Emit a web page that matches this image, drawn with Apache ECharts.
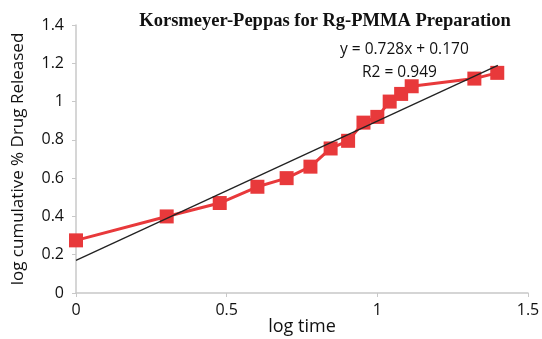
<!DOCTYPE html>
<html lang="en">
  <head>
    <meta charset="UTF-8" />
    <title>Korsmeyer-Peppas for Rg-PMMA Preparation</title>
    <script src="https://cdn.jsdelivr.net/npm/echarts@6/dist/echarts.min.js"></script>
    <style>
      * { margin: 0; padding: 0; box-sizing: border-box; }
      body { background: #fff; overflow: hidden; }
      #chart { width: 542px; height: 339px; }
    </style>
  </head>
  <body>
    <div id="chart"></div>
    <script>
      // log time vs log cumulative % drug released
      const logTime = [0, 0.301, 0.477, 0.602, 0.699, 0.778, 0.845, 0.903, 0.954, 1.0, 1.041, 1.079, 1.114, 1.322, 1.398];
      const logRelease = [0.275, 0.40, 0.47, 0.555, 0.60, 0.66, 0.755, 0.795, 0.89, 0.92, 1.0, 1.04, 1.08, 1.12, 1.15];

      // linear trendline endpoints (y = 0.728x + 0.170)
      const trendX = [0, 1.4];
      const trendY = [0.170, 1.189];

      const xTicks = ["0", "0.5", "1", "1.5"];
      const eqText = "y = 0.728x + 0.170";
      const r2Text = "R2 = 0.949";

      const font = "'Open Sans', sans-serif";
      const chart = echarts.init(document.getElementById("chart"));

      chart.setOption({
        animation: false,
        title: {
          text: "Korsmeyer-Peppas for Rg-PMMA Preparation",
          left: 320,
          top: 7,
          textAlign: "center",
          textStyle: { fontFamily: "'Liberation Serif', serif", fontWeight: "bold", fontSize: 18.5, color: "#111" },
        },
        grid: { left: 76, right: 14, top: 25, bottom: 46, outerBoundsMode: "none" },
        xAxis: {
          type: "value",
          min: 0,
          max: 1.5,
          interval: 0.5,
          name: "log time",
          nameLocation: "middle",
          nameGap: 25,
          nameMoveOverlap: false,
          nameTextStyle: { fontFamily: font, fontSize: 18, color: "#111" },
          axisLine: { lineStyle: { color: "#c8c8c8", width: 1.5 } },
          axisTick: { show: true, length: 4, lineStyle: { color: "#c8c8c8" } },
          splitLine: { show: false },
          axisLabel: {
            fontFamily: font, fontSize: 16, color: "#111", margin: 9,
            formatter: (v) => xTicks[Math.round(v / 0.5)],
          },
        },
        yAxis: {
          type: "value",
          min: 0,
          max: 1.4,
          interval: 0.2,
          name: "log cumulative % Drug Released",
          nameLocation: "middle",
          nameGap: 49,
          nameMoveOverlap: false,
          nameTextStyle: { fontFamily: font, fontSize: 17, color: "#111" },
          axisLine: { show: true, lineStyle: { color: "#c8c8c8", width: 1.5 } },
          axisTick: { show: true, length: 4, lineStyle: { color: "#c8c8c8" } },
          splitLine: { show: false },
          axisLabel: { fontFamily: font, fontSize: 16, color: "#111", margin: 12 },
        },
        graphic: [
          {
            type: "text", left: 340, top: 42,
            style: { text: eqText, fontFamily: font, fontSize: 15.5, fill: "#111" },
          },
          {
            type: "text", left: 362, top: 65,
            style: { text: r2Text, fontFamily: font, fontSize: 15.5, fill: "#111" },
          },
        ],
        series: [
          {
            type: "line",
            data: logTime.map((x, i) => [x, logRelease[i]]),
            symbol: "rect",
            symbolSize: 14,
            itemStyle: { color: "#e8393b" },
            lineStyle: { color: "#e8393b", width: 3 },
            z: 2,
          },
          {
            type: "line",
            data: trendX.map((x, i) => [x, trendY[i]]),
            symbol: "none",
            lineStyle: { color: "#222", width: 1.3 },
            z: 3,
          },
        ],
      });
    </script>
  </body>
</html>
